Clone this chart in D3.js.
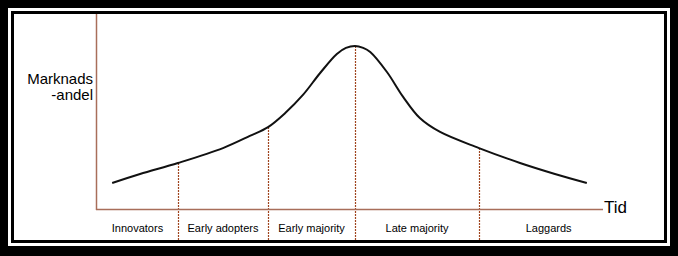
<!DOCTYPE html>
<html>
<head>
<meta charset="utf-8">
<script src="https://cdn.jsdelivr.net/npm/d3@7"></script>
<style>
  body { margin: 0; background: #000; }
  svg { display: block; }
  text { font-family: "Liberation Sans", Arial, sans-serif; }
</style>
</head>
<body>
<div id="chart"></div>
<script>
// diffusion curve, time 0-100 and market share 0-100
var time  = [3, 8.5, 16, 24.9, 30.2, 33.8, 37.2, 40.7, 44.1, 47.4, 49.2, 51, 52.6, 54, 57.3, 60.5, 63.8, 67.8, 75.5, 83.6, 90.5, 96.8];
var share = [13.8, 18.4, 24, 31.6, 37.8, 42.3, 49.5, 58.7, 69.9, 79.6, 82.7, 83.7, 82.7, 80.6, 70.4, 57.7, 46.9, 39.8, 31.6, 24, 18.4, 13.8];

// where the groups split (same times as curve points)
var splits = [16, 33.8, 51, 75.5];
var groupEdges = [0, 16, 33.8, 51, 75.5, 103];
var groups = ["Innovators", "Early adopters", "Early majority", "Late majority", "Laggards"];

var yLabel = ["Marknads", "-andel"];
var xLabel = "Tid";

var width = 678;
var height = 256;

var svg = d3.select("#chart").append("svg")
	.attr("width", width)
	.attr("height", height);

// frame: black / white / black / white
svg.append("rect").attr("x", 0).attr("y", 0).attr("width", width).attr("height", height).style("fill", "#000");
svg.append("rect").attr("x", 8).attr("y", 8).attr("width", 662).attr("height", 238).style("fill", "#fff");
svg.append("rect").attr("x", 11).attr("y", 11).attr("width", 656).attr("height", 232).style("fill", "#000");
svg.append("rect").attr("x", 14).attr("y", 14).attr("width", 650).attr("height", 226).style("fill", "#fff");

var x = d3.scaleLinear().domain([0, 100]).range([97, 603]);
var y = d3.scaleLinear().domain([0, 100]).range([210, 14]);

var points = time.map(function(t, i) { return [t, share[i]]; });

function shareAt(t)
{
	var i = time.indexOf(t);
	return share[i];
}

// dotted dividers
splits.forEach(function(t)
{
	svg.append("line")
		.attr("x1", Math.round(x(t)) + 0.5)
		.attr("x2", Math.round(x(t)) + 0.5)
		.attr("y1", y(shareAt(t)))
		.attr("y2", 240)
		.style("stroke", "#a0451f")
		.style("stroke-width", 1.2)
		.style("stroke-dasharray", "2,1");
});

// axes
svg.append("line")
	.attr("x1", 96.5).attr("x2", 96.5)
	.attr("y1", 14).attr("y2", 210)
	.style("stroke", "#a86e5a").style("stroke-width", 1.5);
svg.append("line")
	.attr("x1", 96).attr("x2", x(100))
	.attr("y1", 209.5).attr("y2", 209.5)
	.style("stroke", "#a86e5a").style("stroke-width", 1.5);

// the curve
var line = d3.line()
	.x(function(d) { return x(d[0]); })
	.y(function(d) { return y(d[1]); })
	.curve(d3.curveCatmullRom.alpha(0.5));

svg.append("path")
	.datum(points)
	.attr("d", line)
	.style("fill", "none")
	.style("stroke", "#111")
	.style("stroke-width", 2);

// labels
svg.selectAll(".ylab")
	.data(yLabel)
	.enter().append("text")
	.attr("x", 93)
	.attr("y", function(d, i) { return 84 + i * 16; })
	.attr("text-anchor", "end")
	.style("font-size", "15px")
	.text(function(d) { return d; });

svg.append("text")
	.attr("x", x(100) + 1)
	.attr("y", 213)
	.style("font-size", "17px")
	.text(xLabel);

svg.selectAll(".group")
	.data(groups)
	.enter().append("text")
	.attr("x", function(d, i) { return x((groupEdges[i] + groupEdges[i + 1]) / 2); })
	.attr("y", 232)
	.attr("text-anchor", "middle")
	.style("font-size", "11px")
	.text(function(d) { return d; });
</script>
</body>
</html>
